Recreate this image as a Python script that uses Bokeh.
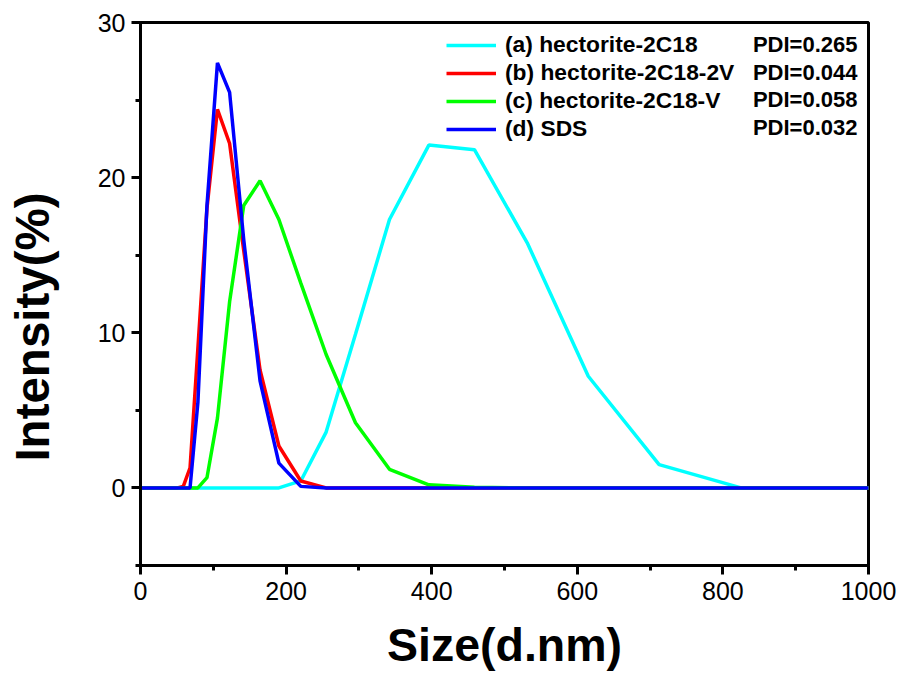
from bokeh.plotting import figure
from bokeh.models import Legend, LegendItem, Label, Range1d, SingleIntervalTicker
from bokeh.embed import file_html
from bokeh.resources import INLINE

# DLS size bins (d.nm)
sizes = [0.4, 50.75, 58.77, 68.06, 78.82, 91.28, 105.7, 122.4, 141.8, 164.2, 190.1,
         220.2, 255.0, 295.3, 342.0, 396.1, 458.7, 531.2, 615.1, 712.4, 825.0, 955.4, 1106.0]

int_a = [0, 0, 0, 0, 0, 0, 0, 0, 0, 0, 0,
         0.45, 3.6, 9.9, 17.3, 22.1, 21.8, 15.8, 7.2, 1.5, 0, 0, 0]
int_b = [0, 0, 0.1, 1.3, 9.0, 18.0, 24.4, 22.2, 15.3, 7.6, 2.7,
         0.45, 0, 0, 0, 0, 0, 0, 0, 0, 0, 0, 0]
int_c = [0, 0, 0, 0, 0, 0.66, 4.5, 12.0, 18.2, 19.8, 17.3,
         13.2, 8.6, 4.2, 1.2, 0.2, 0.05, 0, 0, 0, 0, 0, 0]
int_d = [0, 0, 0, 0, 5.5, 18.2, 27.4, 25.5, 16.0, 6.9, 1.6,
         0.1, 0, 0, 0, 0, 0, 0, 0, 0, 0, 0, 0]

labels = ["(a) hectorite-2C18", "(b) hectorite-2C18-2V", "(c) hectorite-2C18-V", "(d) SDS"]
pdis = ["PDI=0.265", "PDI=0.044", "PDI=0.058", "PDI=0.032"]
colors = ["#00FFFF", "#FF0000", "#00FF00", "#0000FF"]

FONT = "Liberation Sans"

p = figure(width=900, height=674, output_backend="svg", toolbar_location=None,
           x_range=Range1d(0, 1000), y_range=Range1d(-5, 30),
           min_border_left=140, min_border_right=32, min_border_top=22, min_border_bottom=109)
p.grid.visible = False
p.outline_line_color = "black"
p.outline_line_width = 3
p.background_fill_color = "white"
p.border_fill_color = "white"

p.xaxis.ticker = SingleIntervalTicker(interval=200, num_minor_ticks=2)
p.yaxis.ticker = SingleIntervalTicker(interval=10, num_minor_ticks=2)

for ax in (p.xaxis, p.yaxis):
    ax.axis_line_width = 3
    ax.axis_line_color = "black"
    ax.major_tick_line_width = 3
    ax.minor_tick_line_width = 3
    ax.major_tick_line_color = "black"
    ax.minor_tick_line_color = "black"
    ax.major_tick_out = 9
    ax.major_tick_in = 0
    ax.minor_tick_out = 5
    ax.minor_tick_in = 0
    ax.major_label_text_font = FONT
    ax.major_label_text_font_size = "25px"
    ax.major_label_text_color = "black"
    ax.axis_label_text_font = FONT
    ax.axis_label_text_font_style = "bold"
    ax.axis_label_text_font_size = "46.5px"
    ax.axis_label_text_color = "black"

p.xaxis.axis_label = "Size(d.nm)"
# trailing no-break spaces move the centred title below the frame centre, as in the original
p.yaxis.axis_label = "Intensity(%)" + "\u00a0" * 5
p.yaxis.axis_label_text_font_size = "47.5px"
p.xaxis.major_label_standoff = 7
p.yaxis.major_label_standoff = 6
p.xaxis.axis_label_standoff = 16
p.yaxis.axis_label_standoff = 36

renderers = []
for ys, c in zip([int_a, int_b, int_c, int_d], colors):
    r = p.line(sizes, ys, line_color=c, line_width=3.5)
    renderers.append(r)

legend = Legend(items=[LegendItem(label=l, renderers=[r]) for l, r in zip(labels, renderers)],
                location=(306, 423))
legend.border_line_color = None
legend.background_fill_alpha = 0
legend.label_text_font = FONT
legend.label_text_font_style = "bold"
legend.label_text_font_size = "22.8px"
legend.label_text_color = "black"
legend.glyph_width = 50
legend.glyph_height = 20
legend.label_height = 20
legend.label_standoff = 9
legend.spacing = 1
legend.padding = 2
legend.margin = 0
p.add_layout(legend)

for i, t in enumerate(pdis):
    p.add_layout(Label(x=717, y=521 - i * 27.5, x_units="screen", y_units="screen", text=t,
                       text_align="right", text_baseline="middle", text_font=FONT,
                       text_font_style="bold", text_font_size="22px", text_color="black"))

open("out.html", "w").write(file_html(p, INLINE))
